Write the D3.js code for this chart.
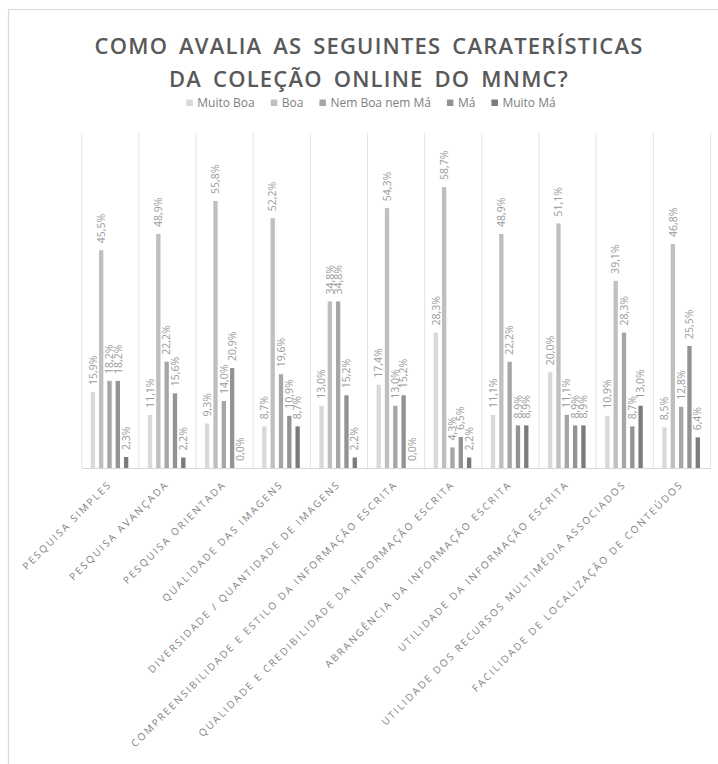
<!DOCTYPE html>
<html>
<head>
<meta charset="utf-8">
<script src="https://cdn.jsdelivr.net/npm/d3@7"></script>
<style>
  body { margin: 0; background: #fff; }
  svg { display: block; }
</style>
</head>
<body>
<svg id="chart" width="718" height="764"></svg>
<script>
// categories (x axis)
const categories = [
  "PESQUISA SIMPLES",
  "PESQUISA AVANÇADA",
  "PESQUISA ORIENTADA",
  "QUALIDADE DAS IMAGENS",
  "DIVERSIDADE / QUANTIDADE DE IMAGENS",
  "COMPREENSIBILIDADE E ESTILO DA INFORMAÇÃO ESCRITA",
  "QUALIDADE E CREDIBILIDADE DA INFORMAÇÃO ESCRITA",
  "ABRANGÊNCIA DA INFORMAÇÃO ESCRITA",
  "UTILIDADE DA INFORMAÇÃO ESCRITA",
  "UTILIDADE DOS RECURSOS MULTIMÉDIA ASSOCIADOS",
  "FACILIDADE DE LOCALIZAÇÃO DE CONTEÚDOS"
];

const seriesNames = ["Muito Boa", "Boa", "Nem Boa nem Má", "Má", "Muito Má"];
const seriesColors = ["#d9d9d9", "#bfbfbf", "#a6a6a6", "#939393", "#7b7b7b"];

// values in %
const muitoBoa   = [15.9, 11.1,  9.3,  8.7, 13.0, 17.4, 28.3, 11.1, 20.0, 10.9,  8.5];
const boa        = [45.5, 48.9, 55.8, 52.2, 34.8, 54.3, 58.7, 48.9, 51.1, 39.1, 46.8];
const nemBoaNemMa= [18.2, 22.2, 14.0, 19.6, 34.8, 13.0,  4.3, 22.2, 11.1, 28.3, 12.8];
const ma         = [18.2, 15.6, 20.9, 10.9, 15.2, 15.2,  6.5,  8.9,  8.9,  8.7, 25.5];
const muitoMa    = [ 2.3,  2.2,  0.0,  8.7,  2.2,  0.0,  2.2,  8.9,  8.9, 13.0,  6.4];

const seriesValues = [muitoBoa, boa, nemBoaNemMa, ma, muitoMa];

const svg = d3.select("#chart");

// chart frame
svg.append("path")
  .attr("d", "M8.5,764 L8.5,9.5 L718,9.5")
  .attr("fill", "none")
  .attr("stroke", "#d9d9d9")
  .attr("stroke-width", 1.2);

// title
const title = svg.append("text")
  .attr("text-anchor", "middle")
  .attr("font-family", "'Open Sans', sans-serif")
  .attr("font-weight", 600)
  .attr("font-size", 22)
  .attr("letter-spacing", 1.2)
  .attr("word-spacing", 4)
  .attr("fill", "#595959");
title.append("tspan").attr("x", 369).attr("y", 54).text("COMO AVALIA AS SEGUINTES CARATERÍSTICAS");
title.append("tspan").attr("x", 369).attr("y", 87).text("DA COLEÇÃO ONLINE DO MNMC?");

// scales
const plotTop = 133, plotBottom = 468;
const x = d3.scaleBand().domain(categories).range([81.7, 710.5]).padding(0);
const xs = d3.scaleBand().domain(seriesNames).range([9, 46.6]).paddingInner(0.48).paddingOuter(0);
const y = d3.scaleLinear().domain([0, 70]).range([plotBottom, plotTop]);
const color = d3.scaleOrdinal().domain(seriesNames).range(seriesColors);

// legend
const legend = svg.append("g");
let lx = 0;
seriesNames.forEach((name) => {
  const item = legend.append("g").attr("transform", `translate(${lx},0)`);
  item.append("rect")
    .attr("x", 0).attr("y", -3.5).attr("width", 6.5).attr("height", 6.5)
    .attr("fill", color(name));
  const t = item.append("text")
    .attr("x", 11).attr("y", 4.3)
    .attr("font-family", "'Open Sans', sans-serif")
    .attr("font-size", 12)
    .attr("fill", "#808080")
    .text(name);
  lx += 11 + t.node().getComputedTextLength() + 16;
});
lx -= 16;
legend.attr("transform", `translate(${371 - lx / 2},103)`);

// vertical separators
const bounds = categories.map(c => x(c)).concat([x.range()[1]]);
svg.append("g").selectAll("line")
  .data(bounds)
  .join("line")
  .attr("x1", d => d).attr("x2", d => d)
  .attr("y1", plotTop).attr("y2", plotBottom)
  .attr("stroke", "#e3e3e3")
  .attr("stroke-width", 1);

// bars
const groups = svg.append("g").selectAll("g")
  .data(categories)
  .join("g")
  .attr("transform", c => `translate(${x(c)},0)`);

const cells = groups.selectAll("g")
  .data((c, i) => seriesNames.map((s, j) => ({ s, v: seriesValues[j][i] })))
  .join("g");

cells.append("rect")
  .attr("x", d => xs(d.s))
  .attr("y", d => y(d.v))
  .attr("width", xs.bandwidth())
  .attr("height", d => plotBottom - y(d.v))
  .attr("fill", d => color(d.s));

cells.append("text")
  .attr("transform", d => `translate(${xs(d.s) + xs.bandwidth() / 2},${y(d.v) - 7}) rotate(-90)`)
  .attr("dy", "0.35em")
  .attr("font-family", "'Open Sans', sans-serif")
  .attr("font-size", 10.5)
  .attr("fill", "#9a9a9a")
  .text(d => d3.format(".1f")(d.v).replace(".", ",") + "%");

// baseline axis
const xAxis = svg.append("g")
  .attr("transform", `translate(0,${plotBottom})`)
  .call(d3.axisBottom(x).tickSize(0).tickFormat(""));
xAxis.select(".domain").attr("stroke", "#d9d9d9");

// category labels
svg.append("g").selectAll("text")
  .data(categories)
  .join("text")
  .attr("transform", c => `translate(${x(c) + x.bandwidth() / 2 + 2},485) rotate(-45)`)
  .attr("text-anchor", "end")
  .attr("font-family", "'Open Sans', sans-serif")
  .attr("font-size", 10)
  .attr("letter-spacing", 2)
  .attr("fill", "#7f7f7f")
  .text(c => c);
</script>
</body>
</html>
